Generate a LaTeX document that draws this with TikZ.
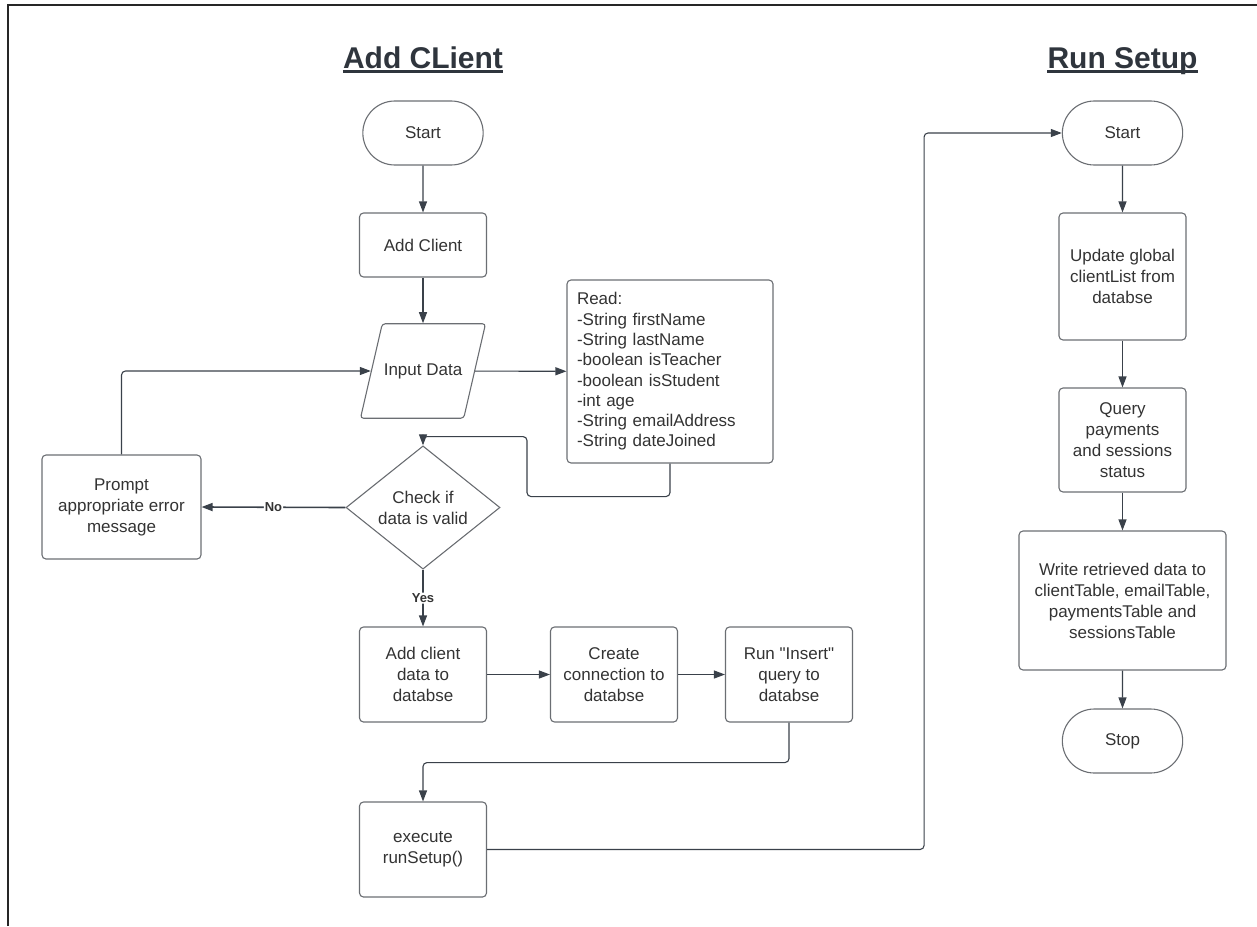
\documentclass[tikz,border=0pt]{standalone}
\usepackage{fontspec}
\setmainfont{Liberation Sans}[Ligatures=TeXOff]
\usetikzlibrary{shapes.geometric,shapes.misc,arrows.meta}

\definecolor{linec}{HTML}{3A414A}
\definecolor{boxc}{HTML}{6B6E73}
\definecolor{txtc}{HTML}{333333}
\definecolor{titc}{HTML}{2F353D}

\begin{document}
\begin{tikzpicture}[x=1pt,y=-1pt,
    >={Triangle[length=11pt,width=8pt]},
    every node/.style={text=txtc, font=\fontsize{17}{21}\selectfont},
    terminal/.style={draw=boxc, line width=1.1pt, rounded rectangle,
        minimum width=127pt, minimum height=64pt},
    process/.style={draw=boxc, line width=1.1pt, rectangle, rounded corners=4pt,
        align=center, minimum width=127pt, minimum height=95pt, inner sep=2pt},
    inout/.style={draw=boxc, line width=1.1pt, trapezium, rounded corners=3pt,
        trapezium left angle=77, trapezium right angle=103,
        inner xsep=1.5pt, inner ysep=39.6pt},
    decision/.style={draw=boxc, line width=1.1pt, diamond, align=center,
        minimum width=154pt, minimum height=109pt, inner sep=0pt},
    heading/.style={font=\fontsize{30}{36}\selectfont\bfseries, text=titc,
        inner sep=0pt, anchor=base},
    flow/.style={draw=linec, line width=1.1pt, rounded corners=4pt},
    answer/.style={fill=white, inner sep=1pt, font=\fontsize{13}{15}\selectfont\bfseries}]

    \useasboundingbox (0,0) rectangle (1257,926);
    \draw[line width=2.2pt, black!85] (8,926) -- (8,5) -- (1257,5);

    % headings
    \node[heading] (addtitle) at (423,68) {Add CLient};
    \node[heading] (runtitle) at (1122.5,68) {Run Setup};
    \foreach \t in {addtitle,runtitle}
        \draw[titc, line width=2.4pt] ([yshift=-3.5pt]\t.base west) -- ([yshift=-3.5pt]\t.base east);

    % add client
    \node[terminal] (start1) at (423,133) {Start};
    \node[process, minimum height=64pt] (addc) at (423,245) {Add Client};
    \node[inout] (input) at (423,371) {Input Data};
    \node[process, align=left, text width=186pt, inner xsep=10pt, minimum height=183pt,
        font=\fontsize{17}{20.3}\selectfont] (read) at (670,371.5)
        {Read:\\-String firstName\\-String lastName\\-boolean isTeacher\\-boolean isStudent\\-int age\\-String emailAddress\\-String dateJoined};
    \node[decision] (check) at (423,507.5) {Check if\\data is valid};
    \node[process, minimum width=159pt, minimum height=104pt] (error) at (121.5,507)
        {Prompt\\appropriate error\\message};
    \node[process] (adddb) at (423,674.5) {Add client\\data to\\databse};
    \node[process] (conn) at (614,674.5) {Create\\connection to\\databse};
    \node[process] (insert) at (789,674.5) {Run "Insert"\\query to\\databse};
    \node[process] (exec) at (423,849.5) {execute\\runSetup()};

    % run setup
    \node[terminal] (start2) at (1122.5,133) {Start};
    \node[process, minimum height=127pt] (upd) at (1122.5,276.5)
        {Update global\\clientList from\\databse};
    \node[process, minimum height=104pt] (query) at (1122.5,440)
        {Query\\payments\\and sessions\\status};
    \node[process, minimum width=207pt, minimum height=139pt] (write) at (1122.5,600.5)
        {Write retrieved data to\\clientTable, emailTable,\\paymentsTable and\\sessionsTable};
    \node[terminal] (stop) at (1122.5,741) {Stop};

    \foreach \a/\b in {start1/addc, addc/input, input/read, adddb/conn, conn/insert,
            start2/upd, upd/query, query/write, write/stop}
        \draw[flow,->] (\a) -- (\b);

    \draw[flow,->] (read.south) -- ++(0,33) -- ++(-143,0) -- ++(0,-60) -| (check.north);
    \draw[flow,->,line width=1.6pt] (check.west) -- node[answer] {No} (error.east);
    \draw[flow,->] (error.north) |- (input.west);
    \draw[flow,->] (check.south) -- node[answer] {Yes} (adddb.north);
    \draw[flow,->] (insert.south) -- ++(0,40) -| (exec.north);
    \draw[flow,->] (exec.east) -- ++(437,0) |- (start2.west);
\end{tikzpicture}
\end{document}
